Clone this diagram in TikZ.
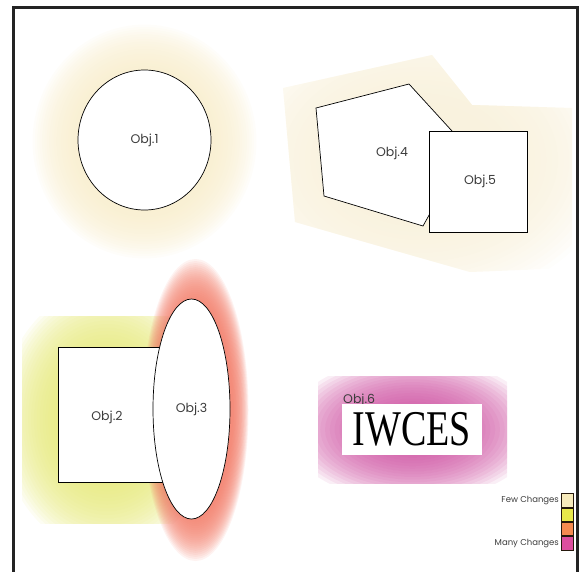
\documentclass[tikz,border=0pt]{standalone}
\usepackage{fontspec}
\newfontfamily\objfont{Poppins}
\newfontfamily\bigserif{Liberation Serif}
\usetikzlibrary{shapes.geometric}
\usetikzlibrary{positioning}

\definecolor{framegray}{HTML}{232323}
\definecolor{textgray}{HTML}{3C3C3C}
\definecolor{cream}{HTML}{F8EDCB}
\definecolor{palecream}{HTML}{F8F0D9}
\definecolor{lime}{HTML}{E6E97A}
\definecolor{salmon}{HTML}{F27C68}
\definecolor{orchid}{HTML}{CC4B9E}
\definecolor{legcream}{HTML}{F8EBBB}
\definecolor{legyellow}{HTML}{E8E84A}
\definecolor{legorange}{HTML}{F58A50}
\definecolor{legpink}{HTML}{DC4E9F}

\begin{document}
\begin{tikzpicture}[x=1pt, y=-1pt,
  objline/.style={draw=black, line width=0.7pt, fill=white},
  objtext/.style={text=textgray, font=\objfont\fontsize{12.5}{14}\selectfont, inner sep=0pt},
  glowstep/.style={opacity=0.09},
  legbox/.style={draw=black!80!brown, line width=0.8pt, minimum width=12, minimum height=13.5, inner sep=0pt},
  legtext/.style={text=textgray, font=\objfont\fontsize{8.5}{10}\selectfont, inner sep=0pt}]
\useasboundingbox (0,0) rectangle (585,571);

% change zones, built up from thin layers
\coordinate (c1) at (144.5,141.5);
\foreach \i in {1,...,22}
  \fill[cream, glowstep] (c1) ellipse [x radius={60+52*\i/22}, y radius={64+53*\i/22}];

\begin{scope}
  \clip (283,88) -- (432,55) -- (472,105) -- (572,108) -- (572,268) -- (470,272) -- (295,222) -- cycle;
  \foreach \i in {1,...,22}
    \fill[palecream, glowstep] (420,160) ellipse [x radius={70+125*\i/22}, y radius={50+95*\i/22}];
\end{scope}

\begin{scope}
  \clip (22,316) rectangle (188,523);
  \foreach \i in {1,...,22}
    \fill[lime, glowstep] (107,419.5) ellipse [x radius={45+62*\i/22}, y radius={58+75*\i/22}];
\end{scope}

\coordinate (c3) at (195.5,410);
\foreach \i in {1,...,22}
  \fill[salmon, glowstep] (c3) ellipse [x radius={37+16*\i/22}, y radius={106+45*\i/22}];

\begin{scope}
  \clip (318,376) rectangle (507,483);
  \foreach \i in {1,...,22}
    \fill[orchid, glowstep] (412.5,429.5) ellipse [x radius={20+106*\i/22}, y radius={12+60*\i/22}];
\end{scope}

% objects
\node[objline, ellipse, minimum width=133, minimum height=140] (o1) at (144.5,140) {};
\node[objtext] at (o1) {Obj.1};

\filldraw[objline] (316,108) -- (409,84) -- (466.8,147.2) -- (423,226) -- (324,196) -- cycle;
\node[objtext] (o4) at (392,153) {Obj.4};
\node[objline, rectangle, minimum width=98, minimum height=101] (o5) at (478,181.5) {};
\node[objtext] at ([xshift=2]o5.center) {Obj.5};

\node[objline, rectangle, minimum width=122, minimum height=135] (o2) at (119,414.5) {};
\node[objtext] at ([xshift=-12,yshift=-3]o2.center) {Obj.2};
\node[objline, ellipse, minimum width=77, minimum height=220] (o3) at (191.5,409) {};
\node[objtext] at (o3) {Obj.3};

\node[objtext, anchor=base west] at (343,403) {Obj.6};
\node[fill=white, minimum width=140, minimum height=51, inner sep=0pt] (o6) at (412,429.5)
  {\bigserif\fontsize{50}{50}\selectfont\scalebox{0.76}[1]{IWCES}};

% legend
\node[legbox, fill=legcream] (l1) at (567,500.5) {};
\node[legbox, fill=legyellow, below=0pt of l1] (l2) {};
\node[legbox, fill=legorange, below=0pt of l2] (l3) {};
\node[legbox, fill=legpink, below=0pt of l3] (l4) {};
\node[legtext, left=1.5 of l1] {Few Changes};
\node[legtext, left=1.5 of l4] {Many Changes};

% frame
\draw[framegray, line width=3pt] (13,575) -- (13,7) -- (577,7) -- (577,575);
\end{tikzpicture}
\end{document}
